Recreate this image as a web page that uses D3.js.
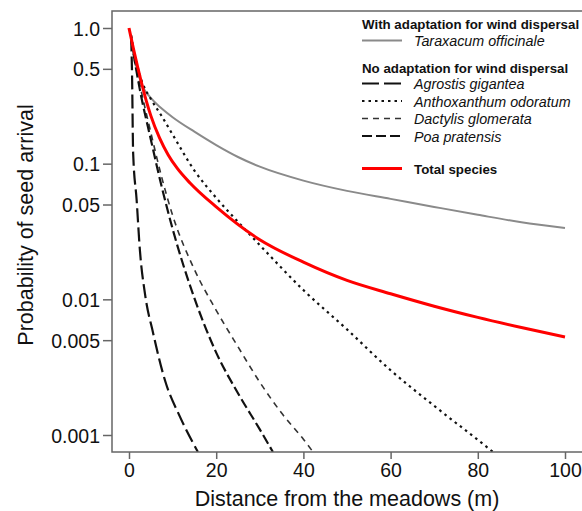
<!DOCTYPE html>
<html lang="en">
<head>
<meta charset="utf-8">
<title>Seed arrival by distance</title>
<script src="https://cdn.jsdelivr.net/npm/d3@7"></script>
<style>
  body { margin: 0; background: #fff; }
  svg { font-family: "Liberation Sans", Arial, sans-serif; }
  .axis text { font-size: 19.5px; fill: #111; }
  .axis line { stroke: #666; stroke-width: 1.5; }
  .axis path { display: none; }
  .frame { fill: none; stroke: #666; stroke-width: 1.5; }
  .curve { fill: none; }
  .title { font-size: 21.5px; fill: #111; }
  .legHead { font-size: 13.3px; font-weight: bold; fill: #111; }
  .legItem { font-size: 14.3px; font-style: italic; fill: #111; }
</style>
</head>
<body>
<script>
// distance (m), probability of seed arrival
var taraxacum = [[0.5,0.88],[1.5,0.55],[3,0.38],[5,0.305],[7.5,0.255],[10,0.22],[15,0.172],[20,0.137],
  [25,0.112],[30,0.095],[40,0.075],[50,0.063],[60,0.055],[70,0.048],[80,0.042],[90,0.037],[100,0.0336]];
var agrostis = [[0.5,0.85],[0.7,0.45],[0.95,0.12],[1.75,0.054],[2.5,0.023],[3.7,0.0108],[5.5,0.0057],
  [8.3,0.0025],[11.7,0.00136],[15.8,0.00075]];
var anthoxanthum = [[0.5,0.88],[1,0.7],[2,0.51],[3,0.4],[5,0.3],[7.5,0.224],[10,0.164],[15,0.089],
  [20,0.056],[25,0.0372],[30,0.0251],[40,0.0117],[50,0.006],[60,0.003],[70,0.00164],[80,0.00092],[83.5,0.00075]];
var dactylis = [[0.5,0.85],[1,0.65],[2.5,0.38],[5,0.17],[7.5,0.0794],[10,0.0417],[15,0.0166],[20,0.0083],
  [25,0.00447],[30,0.00245],[35,0.00145],[40,0.00093],[42.2,0.00075]];
var poa = [[0.5,0.82],[2.5,0.35],[5,0.151],[7.5,0.0676],[10,0.0331],[15,0.0102],[20,0.00405],[25,0.00203],
  [30,0.0011],[33,0.00075]];
var total = [[0,1],[1,0.708],[2,0.513],[3,0.38],[4,0.288],[5,0.226],[7,0.155],[9,0.116],[11,0.093],[14,0.072],
  [20,0.048],[30,0.0275],[40,0.0188],[50,0.0138],[60,0.011],[70,0.0089],[80,0.00736],
  [90,0.0062],[100,0.00528]];

var xTicks = [0, 20, 40, 60, 80, 100];
var yTicks = [1, 0.5, 0.1, 0.05, 0.01, 0.005, 0.001];
var yTickLabels = ["1.0", "0.5", "0.1", "0.05", "0.01", "0.005", "0.001"];

var w = 582, h = 511;
var plotLeft = 112, plotTop = 11, plotBottom = 452;

var svg = d3.select("body").append("svg").attr("width", w).attr("height", h);

var xScale = d3.scaleLinear().domain([0, 100]).range([129, 565]);
var yScale = d3.scaleLog().domain([0.001, 1]).range([435, 28]);

svg.append("clipPath").attr("id", "plotClip")
  .append("rect").attr("x", plotLeft).attr("y", plotTop)
  .attr("width", w - plotLeft).attr("height", plotBottom - plotTop);

var line = d3.line()
  .x(function(d) { return xScale(d[0]); })
  .y(function(d) { return yScale(d[1]); })
  .curve(d3.curveMonotoneX);

var series = [
  { data: taraxacum, color: "#8a8a8a", width: 2, dash: null },
  { data: anthoxanthum, color: "#111", width: 2.2, dash: "2.5,4" },
  { data: dactylis, color: "#333", width: 1.6, dash: "6,5" },
  { data: poa, color: "#111", width: 2.2, dash: "10,4" },
  { data: agrostis, color: "#111", width: 2.2, dash: "14,5" },
  { data: total, color: "#ff0000", width: 3, dash: null }
];

var plot = svg.append("g").attr("clip-path", "url(#plotClip)");
series.forEach(function(s) {
  plot.append("path")
    .datum(s.data)
    .attr("class", "curve")
    .attr("stroke", s.color)
    .attr("stroke-width", s.width)
    .attr("stroke-dasharray", s.dash)
    .attr("d", line);
});

svg.append("rect").attr("class", "frame")
  .attr("x", plotLeft).attr("y", plotTop)
  .attr("width", w - plotLeft + 20).attr("height", plotBottom - plotTop);

var xAxis = d3.axisBottom(xScale).tickValues(xTicks).tickSize(7).tickPadding(4);
var yAxis = d3.axisLeft(yScale).tickValues(yTicks).tickSize(9).tickPadding(3)
  .tickFormat(function(d, i) { return yTickLabels[i]; });

svg.append("g").attr("class", "axis")
  .attr("transform", "translate(0," + plotBottom + ")")
  .call(xAxis);

svg.append("g").attr("class", "axis")
  .attr("transform", "translate(" + plotLeft + ",0)")
  .call(yAxis)
  .selectAll("text").attr("dy", "0.36em");

svg.append("text").attr("class", "title")
  .attr("x", 347).attr("y", 506)
  .attr("text-anchor", "middle")
  .text("Distance from the meadows (m)");

svg.append("text").attr("class", "title")
  .attr("transform", "translate(33,225) rotate(-90)")
  .attr("text-anchor", "middle")
  .text("Probability of seed arrival");

// legend
var legendHeads = [
  { text: "With adaptation for wind dispersal", y: 29 },
  { text: "No adaptation for wind dispersal", y: 72.5 }
];
var legendItems = [
  { text: "Taraxacum officinale", y: 46, s: 0, italic: true },
  { text: "Agrostis gigantea", y: 89, s: 4, italic: true },
  { text: "Anthoxanthum odoratum", y: 106.5, s: 1, italic: true },
  { text: "Dactylis glomerata", y: 124, s: 2, italic: true },
  { text: "Poa pratensis", y: 141.5, s: 3, italic: true },
  { text: "Total species", y: 174, s: 5, italic: false }
];

var legend = svg.append("g");
legend.selectAll(".legHead").data(legendHeads).enter().append("text")
  .attr("class", "legHead")
  .attr("x", 362).attr("y", function(d) { return d.y; })
  .text(function(d) { return d.text; });

legendItems.forEach(function(d) {
  var s = series[d.s];
  legend.append("line")
    .attr("x1", 362).attr("x2", 402)
    .attr("y1", d.y - 5.5).attr("y2", d.y - 5.5)
    .attr("stroke", s.color)
    .attr("stroke-width", s.width)
    .attr("stroke-dasharray", d.s === 4 ? "17,5" : s.dash);
  legend.append("text")
    .attr("class", d.italic ? "legItem" : "legHead")
    .attr("x", 414).attr("y", d.y)
    .text(d.text);
});
</script>
</body>
</html>
